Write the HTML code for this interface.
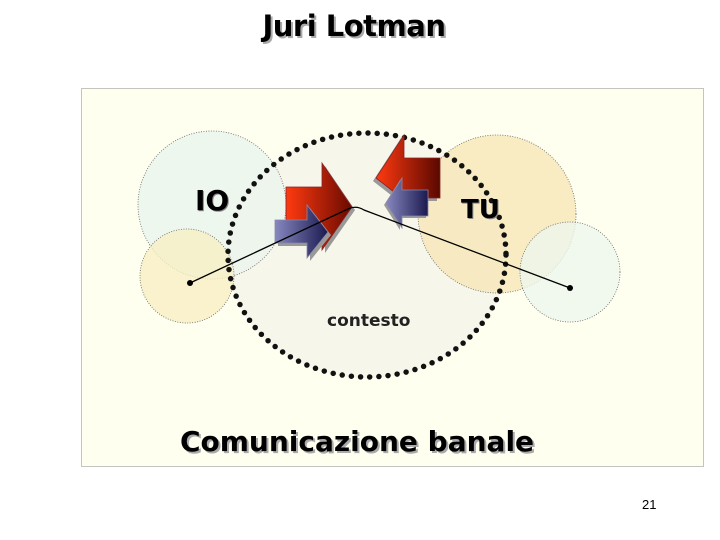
<!DOCTYPE html>
<html><head><style>
body{margin:0;width:720px;height:540px;background:#fff;position:relative;overflow:hidden;font-family:"DejaVu Sans",sans-serif}
.t{position:absolute;font-weight:bold;white-space:nowrap}
</style></head><body>
<div class="t" style="left:0;width:708px;text-align:center;top:9px;font-size:29px;letter-spacing:-0.5px;text-shadow:2px 2px 0 #aaa">Juri Lotman</div>
<svg width="720" height="540" style="position:absolute;left:0;top:0">
<defs>
<linearGradient id="r" x1="0" x2="1"><stop offset="0" stop-color="#ff3a10"/><stop offset="1" stop-color="#6a0a00"/></linearGradient>
<linearGradient id="r2" x1="1" x2="0"><stop offset="0" stop-color="#5a0800"/><stop offset="1" stop-color="#ff3a10"/></linearGradient>
<linearGradient id="b" x1="0" x2="1"><stop offset="0" stop-color="#8888c0"/><stop offset="1" stop-color="#1a1a50"/></linearGradient>
<linearGradient id="b2" x1="1" x2="0"><stop offset="0" stop-color="#1a1a50"/><stop offset="1" stop-color="#8888c0"/></linearGradient>
</defs>
<rect x="81.5" y="88.5" width="622" height="378" fill="#fffff0" stroke="#888" stroke-dasharray="1,1"/>
<g stroke="#666" stroke-dasharray="1,1.5" stroke-width="0.8">
<ellipse cx="367" cy="255" rx="140" ry="123" fill="#f7f6ea" stroke="none"/>
<circle cx="212" cy="205" r="74" fill="#eaf5ee" fill-opacity="0.8"/>
<circle cx="187" cy="276" r="47" fill="#f7efc4" fill-opacity="0.8"/>
<circle cx="497" cy="214" r="79" fill="#f7e6b4" fill-opacity="0.75"/>
<circle cx="570" cy="272" r="50" fill="#eef6ec" fill-opacity="0.8"/>
</g>
<ellipse cx="367" cy="255" rx="139" ry="122" fill="none" stroke="#111" stroke-width="5.5" stroke-linecap="round" stroke-dasharray="0,9.2"/>
<g transform="translate(3,3)" fill="#999"><path d="M286 187 H322 V163 L352 207 L322 250 V230 H286Z"/></g>
<path d="M286 187 H322 V163 L352 207 L322 250 V230 H286Z" fill="url(#r)" stroke="#822" stroke-width="0.8"/>
<g transform="translate(3,3)" fill="#999"><path d="M275 220 H307 V205 L328 232 L307 258 V243 H275Z"/></g>
<path d="M275 220 H307 V205 L328 232 L307 258 V243 H275Z" fill="url(#b)" stroke="#88a" stroke-width="0.8"/>
<g transform="translate(-3,3)" fill="#999"><path d="M440 158 H404 V135 L376 178 L404 200 V198 H440Z"/></g>
<path d="M440 158 H404 V135 L376 178 L404 200 V198 H440Z" fill="url(#r2)" stroke="#822" stroke-width="0.8"/>
<g transform="translate(-2,2)" fill="#999"><path d="M428 190 H402 V178 L386 203 L402 228 V216 H428Z"/></g>
<path d="M428 190 H402 V178 L386 203 L402 228 V216 H428Z" fill="url(#b2)" stroke="#88a" stroke-width="0.8"/>
<path d="M190 283 L348 209 Q356 205 364 210 L570 288" fill="none" stroke="#000" stroke-width="1.3"/>
<circle cx="190" cy="283" r="3"/><circle cx="570" cy="288" r="3"/>
</svg>
<div class="t" style="left:195px;top:184px;font-size:28px;text-shadow:1px 1px 0 #888">IO</div>
<div class="t" style="left:461px;top:195px;font-size:26px;text-shadow:1px 1px 0 #888">TU</div>
<div class="t" style="left:327px;top:311px;font-size:17px;color:#222">contesto</div>
<div class="t" style="left:0;width:714px;text-align:center;top:425px;font-size:28px;text-shadow:2px 2px 0 #aaa">Comunicazione banale</div>
<div style="position:absolute;left:642px;top:497px;font-size:13px;font-family:'Liberation Sans',sans-serif">21</div>
</body></html>
